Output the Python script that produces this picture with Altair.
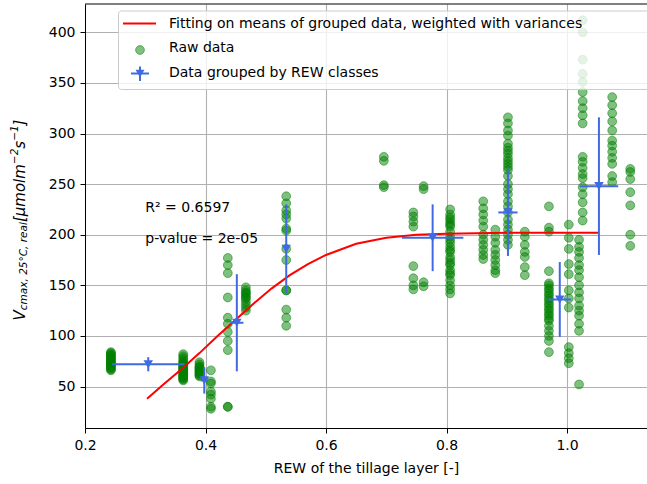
import altair as alt
import pandas as pd

# ---------------- data ----------------
raw_x = [0.243, 0.363, 0.390, 0.409, 0.437, 0.467, 0.534, 0.696, 0.745, 0.762,
         0.806, 0.861, 0.881, 0.902, 0.930, 0.970, 1.003, 1.020, 1.026, 1.075, 1.105]
raw_y = [
    [66, 67, 68, 69, 70, 71, 72, 72, 73, 74, 75, 76, 77, 78, 79, 80, 81, 82, 83, 84],
    [56, 57, 58, 59, 60, 61, 62, 63, 64, 65, 66, 67, 68, 69, 70, 71, 72, 73, 74, 76, 78, 80, 82],
    [60, 61, 62, 63, 64, 65, 66, 67, 68, 69, 70, 72, 74],
    [66, 55, 53, 45, 42, 38, 30, 28],
    [177, 170, 162, 138, 118, 112, 104, 95, 86, 30, 30],
    [148, 145, 143, 142, 140, 138, 137, 134, 131, 128, 125],
    [238, 231, 224, 220, 216, 206, 204, 186, 175, 145, 145, 126, 118, 110],
    [277, 273, 249, 247],
    [222, 218, 213, 208, 169, 157, 150, 146],
    [248, 245, 153, 149],
    [225, 220, 217, 215, 212, 210, 208, 203, 198, 195, 192, 188, 185, 183, 178, 175, 172,
     170, 165, 162, 160, 155, 150, 146, 142],
    [233, 226, 220, 214, 208, 200, 195, 190, 185, 180, 176],
    [205, 198, 192, 185, 180, 175, 170, 165, 162],
    [316, 310, 303, 298, 290, 286, 283, 280, 276, 273, 270, 267, 264, 258, 250, 245, 240,
     233, 228, 222, 215, 210, 205, 200, 195, 190],
    [203, 198, 190, 183, 178, 168, 160],
    [228, 207, 203, 164, 152, 150, 147, 145, 142, 140, 137, 135, 132, 130, 127, 125, 122,
     120, 117, 115, 110, 105, 100, 95, 84],
    [210, 197, 186, 171, 161, 145, 137, 128, 89, 83, 78, 73],
    [195, 188, 183, 177, 170, 165, 158, 150, 143, 137, 130, 125, 120, 112, 105, 52],
    [412, 400, 373, 359, 351, 341, 332, 325, 318, 310, 277, 272, 266, 260, 256, 247, 240, 232, 222, 214],
    [336, 328, 320, 312, 303, 293, 288, 282, 276, 270, 258, 252],
    [265, 262, 255, 242, 229, 200, 189],
]

grp_x = [0.305, 0.398, 0.452, 0.534, 0.777, 0.902, 0.988, 1.053]
grp_y = [72, 56, 113, 186, 197, 222, 136, 248]
grp_xerr = [0.060, 0.006, 0.011, 0.002, 0.051, 0.016, 0.019, 0.032]
grp_yerr = [7, 13, 48, 44, 33, 43, 37, 68]

fit_x = [0.303, 0.33, 0.36, 0.39, 0.42, 0.45, 0.48, 0.51, 0.54, 0.57, 0.60,
         0.65, 0.70, 0.75, 0.80, 0.90, 1.0, 1.053]
fit_y = [38, 52, 67, 83, 100, 116, 132, 147, 160, 171, 180,
         191, 197, 200, 201, 202, 202, 202]

annot_text = ["R\u00b2 = 0.6597", "p-value = 2e-05"]
annot_x = [0.300, 0.300]
annot_y = [226, 196]

legend_labels = ["Fitting on means of grouped data, weighted with variances",
                 "Raw data", "Data grouped by REW classes"]

# y-axis title pieces (mathtext-like): text, font size, role
ytitle_parts = ["V", "cmax, 25\u00b0C, real", "[\u03bcmolm", "\u22122", "s", "\u22121", "]"]
ytitle_sizes = [15, 10.5, 15, 10.5, 15, 10.5, 15]
ytitle_roles = ["base", "sub", "base", "sup", "base", "sup", "base"]

x_ticks = [0.2, 0.4, 0.6, 0.8, 1.0, 1.2]
y_ticks = [50, 100, 150, 200, 250, 300, 350, 400]

# ---------------- tables ----------------
raw_df = pd.DataFrame(
    [{"x": xv, "y": yv} for xv, ys in zip(raw_x, raw_y) for yv in ys]
)
grp_df = pd.DataFrame({"x": grp_x, "y": grp_y, "xe": grp_xerr, "ye": grp_yerr})
fit_df = pd.DataFrame({"x": fit_x, "y": fit_y})
ann_df = pd.DataFrame({"x": annot_x, "y": annot_y, "t": annot_text})

W, H = 562, 424
FONT = "DejaVu Sans"
xs = alt.Scale(domain=[0.2, 0.2 + W / 602.5], nice=False, zero=False)
ys = alt.Scale(domain=[9, 428], nice=False, zero=False)

x_axis = alt.Axis(values=x_ticks, format=".1f", title="REW of the tillage layer [-]",
                  grid=True, gridColor="#b0b0b0", gridWidth=1.1, labelFlush=False,
                  tickColor="black", tickSize=5, labelPadding=5,
                  domainColor="black", titleY=40, titleBaseline="middle")
y_axis = alt.Axis(values=y_ticks, title="",
                  grid=True, gridColor="#b0b0b0", gridWidth=1.1, labelFlush=False,
                  tickColor="black", tickSize=5, labelPadding=5,
                  domainColor="black")

base_x = alt.X("x:Q", scale=xs, axis=x_axis)
base_y = alt.Y("y:Q", scale=ys, axis=y_axis)

raw = alt.Chart(raw_df).mark_point(
    shape="circle", filled=True, fill="#008000", fillOpacity=0.5,
    stroke="#008000", strokeOpacity=0.5, strokeWidth=1, size=78
).encode(x=base_x, y=base_y)

fit = alt.Chart(fit_df).mark_line(color="red", strokeWidth=2).encode(
    x=alt.X("x:Q", scale=xs), y=alt.Y("y:Q", scale=ys))

eb_v = alt.Chart(grp_df).transform_calculate(
    lo="datum.y - datum.ye", hi="datum.y + datum.ye"
).mark_rule(color="royalblue", strokeWidth=2).encode(
    x=alt.X("x:Q", scale=xs), y=alt.Y("lo:Q", scale=ys), y2="hi:Q")

eb_h = alt.Chart(grp_df).transform_calculate(
    lo="datum.x - datum.xe", hi="datum.x + datum.xe"
).mark_rule(color="royalblue", strokeWidth=2).encode(
    x=alt.X("lo:Q", scale=xs), x2="hi:Q", y=alt.Y("y:Q", scale=ys))

grp_pts = alt.Chart(grp_df).mark_point(
    shape="triangle-down", filled=True, color="royalblue", opacity=1, size=90
).encode(x=alt.X("x:Q", scale=xs), y=alt.Y("y:Q", scale=ys))

ann = alt.Chart(ann_df).mark_text(
    align="left", baseline="middle", fontSize=14, font=FONT, color="black"
).encode(x=alt.X("x:Q", scale=xs), y=alt.Y("y:Q", scale=ys), text="t:N")

one = pd.DataFrame({"k": [0]})
top_border = alt.Chart(one).mark_rule(color="black", strokeWidth=1).encode(
    x=alt.value(0), x2=alt.value(W), y=alt.value(0))

# --- y-axis title assembled from pieces, running bottom to top ---
ADV = {"V": 0.684, "c": 0.550, "m": 0.974, "a": 0.613, "x": 0.592, ",": 0.318,
       " ": 0.318, "2": 0.636, "5": 0.636, "\u00b0": 0.5, "C": 0.698, "r": 0.411,
       "e": 0.615, "l": 0.278, "[": 0.390, "\u03bc": 0.636, "o": 0.612,
       "s": 0.521, "\u2212": 0.838, "1": 0.636, "]": 0.390}
widths = [sum(ADV.get(ch, 0.6) for ch in t) * s for t, s in zip(ytitle_parts, ytitle_sizes)]
total = sum(widths)
start = H / 2 + 4 + total / 2
title_layers = []
pos = start
for t, s, r, w in zip(ytitle_parts, ytitle_sizes, ytitle_roles, widths):
    xoff = {"base": -65, "sub": -61, "sup": -70}[r]
    title_layers.append(
        alt.Chart(one).mark_text(align="left", baseline="middle", angle=270,
                                 fontSize=s, font=FONT, fontStyle="italic", color="black")
        .encode(x=alt.value(xoff), y=alt.value(pos), text=alt.value(t)))
    pos -= w

leg_box = alt.Chart(one).mark_rect(
    fill="white", fillOpacity=0.8, stroke="#cccccc", strokeWidth=1, cornerRadius=3
).encode(x=alt.value(33.5), x2=alt.value(W + 20), y=alt.value(7), y2=alt.value(85.5))

leg_line = alt.Chart(one).mark_rule(color="red", strokeWidth=2).encode(
    x=alt.value(38), x2=alt.value(71), y=alt.value(19.5))
leg_circ = alt.Chart(one).mark_point(
    shape="circle", filled=True, fill="#008000", fillOpacity=0.5,
    stroke="#008000", strokeOpacity=0.5, strokeWidth=1, size=78
).encode(x=alt.value(55), y=alt.value(46))
leg_eh = alt.Chart(one).mark_rule(color="royalblue", strokeWidth=2).encode(
    x=alt.value(46), x2=alt.value(64), y=alt.value(69.5))
leg_ev = alt.Chart(one).mark_rule(color="royalblue", strokeWidth=2).encode(
    x=alt.value(55), y=alt.value(62.5), y2=alt.value(77))
leg_tri = alt.Chart(one).mark_point(
    shape="triangle-down", filled=True, color="royalblue", opacity=1, size=80
).encode(x=alt.value(55), y=alt.value(69.5))

leg_texts = []
for lbl, yy in zip(legend_labels, [19.5, 44, 69]):
    leg_texts.append(
        alt.Chart(one).mark_text(align="left", baseline="middle", fontSize=14,
                                 font=FONT, color="black")
        .encode(x=alt.value(84), y=alt.value(yy), text=alt.value(lbl)))

chart = alt.layer(
    raw, fit, eb_v, eb_h, grp_pts, ann, top_border, *title_layers,
    leg_box, leg_line, leg_circ, leg_eh, leg_ev, leg_tri, *leg_texts
).properties(
    width=W, height=H,
    autosize=alt.AutoSizeParams(type="none"),
    padding={"left": 85, "top": 4, "right": 0, "bottom": 56},
).configure_view(stroke=None).configure_axis(
    labelFont=FONT, labelFontSize=14, labelColor="black",
    titleFont=FONT, titleFontSize=14, titleColor="black", titleFontWeight="normal"
)

chart.save("out.html", embed_options={"renderer": "svg", "actions": False})
